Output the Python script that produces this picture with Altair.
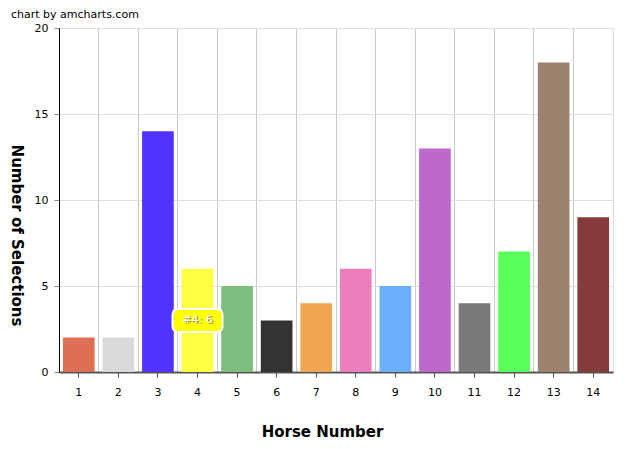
import altair as alt
import pandas as pd

horses = [1, 2, 3, 4, 5, 6, 7, 8, 9, 10, 11, 12, 13, 14]
selections = [2, 2, 14, 6, 5, 3, 4, 6, 5, 13, 4, 7, 18, 9]
colors = ["#dd7054", "#d9d9d9", "#5033ff", "#ffff44", "#7dbd7e", "#333333", "#f0a550",
          "#ec7ebd", "#6eaefe", "#bd69cc", "#7a7a7a", "#5aff5a", "#9e8270", "#863b3b"]
y_ticks = [0, 5, 10, 15, 20]
balloon_horse = 4

df = pd.DataFrame({"horse": horses, "selections": selections, "color": colors})

FONT = "DejaVu Sans"

x_scale = alt.Scale(paddingInner=0, paddingOuter=0)
y_axis = alt.Axis(
    title="Number of Selections", values=y_ticks, grid=True, gridColor="#dedede",
    domainColor="#000000", domainWidth=1, tickColor="#888888", tickSize=5,
    labelPadding=6, labelFont=FONT, labelFontSize=11, labelColor="#000000",
    titleFont=FONT, titleFontSize=15, titleFontWeight="bold", titleColor="#000000",
    titleAngle=90, titleAlign="center", titleBaseline="middle",
    titleX=-43, titleY=207,
)
y_scale = alt.Scale(domain=[0, 20], nice=False)
y_enc = alt.Y("selections:Q", scale=y_scale, axis=y_axis)

bars = alt.Chart(df).mark_bar(width=alt.RelativeBandSize(0.8)).encode(
    x=alt.X("horse:O", scale=x_scale, axis=alt.Axis(
        title="Horse Number", labelAngle=0, grid=False, domainColor="#555555",
        domainWidth=2, tickColor="#555555", tickSize=5, labelPadding=9,
        labelFont=FONT, labelFontSize=11, labelColor="#000000",
        titleFont=FONT, titleFontSize=15, titleFontWeight="bold", titleColor="#000000",
        titleX=263, titleY=59, titleBaseline="middle", titleAlign="center")),
    y=y_enc,
    color=alt.Color("color:N", scale=None),
)

balloon_path = ("M -0.75 -0.46 L 0.75 -0.46 Q 1 -0.46 1 -0.21 L 1 0.21 Q 1 0.46 0.75 0.46 "
                "L -0.75 0.46 Q -1 0.46 -1 0.21 L -1 -0.21 Q -1 -0.46 -0.75 -0.46 Z")

balloon_base = alt.Chart(df).transform_filter(
    alt.datum.horse == balloon_horse
).transform_calculate(
    mid="datum.selections / 2",
    label="'#' + datum.horse + ': ' + datum.selections",
)

grid_axis = alt.Axis(title=None, grid=True, gridColor="#c8c8c8", bandPosition=0,
                     labels=False, ticks=False, domain=False)

pos_x = alt.X("horse:O", scale=x_scale, axis=grid_axis)
pos_y = alt.Y("mid:Q", scale=y_scale, axis=y_axis)

balloon = balloon_base.mark_point(
    shape=balloon_path, size=2500, filled=True, fill="#ffff00", opacity=1,
    stroke="#ffffff", strokeWidth=2,
).encode(x=pos_x, y=pos_y)

balloon_shadow = balloon_base.mark_text(
    font=FONT, fontSize=11, color="#8c8c50", dx=1, dy=1,
).encode(x=pos_x, y=pos_y, text="label:N")

balloon_text = balloon_base.mark_text(
    font=FONT, fontSize=11, color="#ffffff",
).encode(x=pos_x, y=pos_y, text="label:N")

chart = alt.layer(bars, balloon, balloon_shadow, balloon_text).resolve_axis(
    x="independent"
).properties(
    width=554, height=344,
    title=alt.TitleParams("chart by amcharts.com", anchor="start", frame="group",
                          dx=-48, dy=2, font=FONT, fontSize=11, fontWeight="normal",
                          color="#000000"),
    autosize=alt.AutoSizeParams(type="none"),
    padding={"left": 51, "top": 20, "right": 11, "bottom": 74},
).configure_view(stroke="#dcdcdc")

chart.save("out.html", embed_options={"renderer": "svg", "actions": False})
